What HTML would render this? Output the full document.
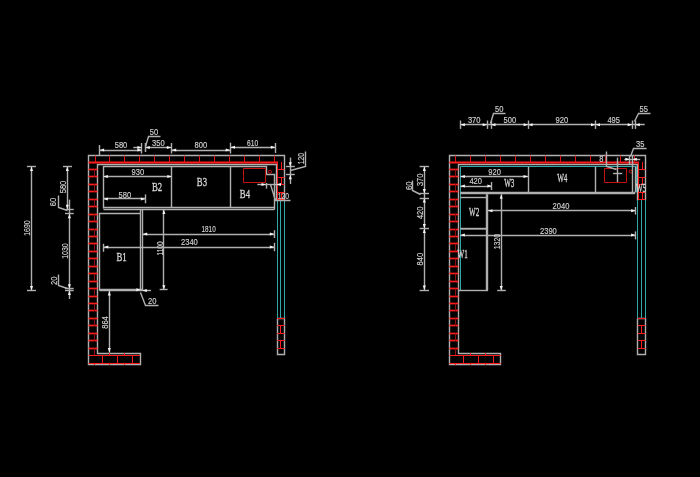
<!DOCTYPE html>
<html><head><meta charset="utf-8"><style>
html,body{margin:0;padding:0;background:#000;width:700px;height:477px;overflow:hidden}
svg{display:block;will-change:transform}
</style></head><body>
<svg width="700" height="477" viewBox="0 0 700 477">
<rect width="700" height="477" fill="#000"/>
<g>
<polyline points="284.50,200.50 284.50,155.50 88.50,155.50 88.50,364.50 140.50,364.50 140.50,353.50 97.50,353.50 97.50,164.50 276.50,164.50 276.50,200.50" fill="none" stroke="#b0b0b0" stroke-width="1.4"/>
<line x1="88.50" y1="162.50" x2="278.00" y2="162.50" stroke="#ff1c1c" stroke-width="1.8"/>
<line x1="95.50" y1="155.50" x2="95.50" y2="162.00" stroke="#e01414" stroke-width="1"/>
<line x1="109.50" y1="155.50" x2="109.50" y2="162.00" stroke="#e01414" stroke-width="1"/>
<line x1="124.50" y1="155.50" x2="124.50" y2="162.00" stroke="#e01414" stroke-width="1"/>
<line x1="139.50" y1="155.50" x2="139.50" y2="162.00" stroke="#e01414" stroke-width="1"/>
<line x1="154.50" y1="155.50" x2="154.50" y2="162.00" stroke="#e01414" stroke-width="1"/>
<line x1="169.50" y1="155.50" x2="169.50" y2="162.00" stroke="#e01414" stroke-width="1"/>
<line x1="184.50" y1="155.50" x2="184.50" y2="162.00" stroke="#e01414" stroke-width="1"/>
<line x1="199.50" y1="155.50" x2="199.50" y2="162.00" stroke="#e01414" stroke-width="1"/>
<line x1="214.50" y1="155.50" x2="214.50" y2="162.00" stroke="#e01414" stroke-width="1"/>
<line x1="229.50" y1="155.50" x2="229.50" y2="162.00" stroke="#e01414" stroke-width="1"/>
<line x1="244.50" y1="155.50" x2="244.50" y2="162.00" stroke="#e01414" stroke-width="1"/>
<line x1="259.50" y1="155.50" x2="259.50" y2="162.00" stroke="#e01414" stroke-width="1"/>
<line x1="274.50" y1="155.50" x2="274.50" y2="162.00" stroke="#e01414" stroke-width="1"/>
<line x1="102.50" y1="162.00" x2="102.50" y2="163.50" stroke="#ff1c1c" stroke-width="1"/>
<line x1="117.50" y1="162.00" x2="117.50" y2="163.50" stroke="#ff1c1c" stroke-width="1"/>
<line x1="132.50" y1="162.00" x2="132.50" y2="163.50" stroke="#ff1c1c" stroke-width="1"/>
<line x1="147.50" y1="162.00" x2="147.50" y2="163.50" stroke="#ff1c1c" stroke-width="1"/>
<line x1="162.50" y1="162.00" x2="162.50" y2="163.50" stroke="#ff1c1c" stroke-width="1"/>
<line x1="177.50" y1="162.00" x2="177.50" y2="163.50" stroke="#ff1c1c" stroke-width="1"/>
<line x1="191.50" y1="162.00" x2="191.50" y2="163.50" stroke="#ff1c1c" stroke-width="1"/>
<line x1="206.50" y1="162.00" x2="206.50" y2="163.50" stroke="#ff1c1c" stroke-width="1"/>
<line x1="221.50" y1="162.00" x2="221.50" y2="163.50" stroke="#ff1c1c" stroke-width="1"/>
<line x1="236.50" y1="162.00" x2="236.50" y2="163.50" stroke="#ff1c1c" stroke-width="1"/>
<line x1="251.50" y1="162.00" x2="251.50" y2="163.50" stroke="#ff1c1c" stroke-width="1"/>
<line x1="266.50" y1="162.00" x2="266.50" y2="163.50" stroke="#ff1c1c" stroke-width="1"/>
<line x1="88.50" y1="169.50" x2="97.50" y2="169.50" stroke="#ff1c1c" stroke-width="1.7"/>
<line x1="88.50" y1="176.50" x2="97.50" y2="176.50" stroke="#ff1c1c" stroke-width="1.7"/>
<line x1="88.50" y1="184.50" x2="97.50" y2="184.50" stroke="#ff1c1c" stroke-width="1.7"/>
<line x1="88.50" y1="191.50" x2="97.50" y2="191.50" stroke="#ff1c1c" stroke-width="1.7"/>
<line x1="88.50" y1="199.50" x2="97.50" y2="199.50" stroke="#ff1c1c" stroke-width="1.7"/>
<line x1="88.50" y1="206.50" x2="97.50" y2="206.50" stroke="#ff1c1c" stroke-width="1.7"/>
<line x1="88.50" y1="214.50" x2="97.50" y2="214.50" stroke="#ff1c1c" stroke-width="1.7"/>
<line x1="88.50" y1="221.50" x2="97.50" y2="221.50" stroke="#ff1c1c" stroke-width="1.7"/>
<line x1="88.50" y1="229.50" x2="97.50" y2="229.50" stroke="#ff1c1c" stroke-width="1.7"/>
<line x1="88.50" y1="236.50" x2="97.50" y2="236.50" stroke="#ff1c1c" stroke-width="1.7"/>
<line x1="88.50" y1="243.50" x2="97.50" y2="243.50" stroke="#ff1c1c" stroke-width="1.7"/>
<line x1="88.50" y1="251.50" x2="97.50" y2="251.50" stroke="#ff1c1c" stroke-width="1.7"/>
<line x1="88.50" y1="258.50" x2="97.50" y2="258.50" stroke="#ff1c1c" stroke-width="1.7"/>
<line x1="88.50" y1="266.50" x2="97.50" y2="266.50" stroke="#ff1c1c" stroke-width="1.7"/>
<line x1="88.50" y1="273.50" x2="97.50" y2="273.50" stroke="#ff1c1c" stroke-width="1.7"/>
<line x1="88.50" y1="281.50" x2="97.50" y2="281.50" stroke="#ff1c1c" stroke-width="1.7"/>
<line x1="88.50" y1="288.50" x2="97.50" y2="288.50" stroke="#ff1c1c" stroke-width="1.7"/>
<line x1="88.50" y1="296.50" x2="97.50" y2="296.50" stroke="#ff1c1c" stroke-width="1.7"/>
<line x1="88.50" y1="303.50" x2="97.50" y2="303.50" stroke="#ff1c1c" stroke-width="1.7"/>
<line x1="88.50" y1="310.50" x2="97.50" y2="310.50" stroke="#ff1c1c" stroke-width="1.7"/>
<line x1="88.50" y1="318.50" x2="97.50" y2="318.50" stroke="#ff1c1c" stroke-width="1.7"/>
<line x1="88.50" y1="325.50" x2="97.50" y2="325.50" stroke="#ff1c1c" stroke-width="1.7"/>
<line x1="88.50" y1="333.50" x2="97.50" y2="333.50" stroke="#ff1c1c" stroke-width="1.7"/>
<line x1="88.50" y1="340.50" x2="97.50" y2="340.50" stroke="#ff1c1c" stroke-width="1.7"/>
<line x1="88.50" y1="348.50" x2="97.50" y2="348.50" stroke="#ff1c1c" stroke-width="1.7"/>
<line x1="94.50" y1="169.45" x2="94.50" y2="176.90" stroke="#901010" stroke-width="1"/>
<line x1="94.50" y1="184.35" x2="94.50" y2="191.80" stroke="#901010" stroke-width="1"/>
<line x1="94.50" y1="199.25" x2="94.50" y2="206.70" stroke="#901010" stroke-width="1"/>
<line x1="94.50" y1="214.15" x2="94.50" y2="221.60" stroke="#901010" stroke-width="1"/>
<line x1="94.50" y1="229.05" x2="94.50" y2="236.50" stroke="#901010" stroke-width="1"/>
<line x1="94.50" y1="243.95" x2="94.50" y2="251.40" stroke="#901010" stroke-width="1"/>
<line x1="94.50" y1="258.85" x2="94.50" y2="266.30" stroke="#901010" stroke-width="1"/>
<line x1="94.50" y1="273.75" x2="94.50" y2="281.20" stroke="#901010" stroke-width="1"/>
<line x1="94.50" y1="288.65" x2="94.50" y2="296.10" stroke="#901010" stroke-width="1"/>
<line x1="94.50" y1="303.55" x2="94.50" y2="311.00" stroke="#901010" stroke-width="1"/>
<line x1="94.50" y1="318.45" x2="94.50" y2="325.90" stroke="#901010" stroke-width="1"/>
<line x1="94.50" y1="333.35" x2="94.50" y2="340.80" stroke="#901010" stroke-width="1"/>
<line x1="94.50" y1="348.25" x2="94.50" y2="355.50" stroke="#901010" stroke-width="1"/>
<line x1="277.50" y1="162.00" x2="277.50" y2="200.00" stroke="#ff1c1c" stroke-width="1"/>
<line x1="278.00" y1="169.50" x2="284.50" y2="169.50" stroke="#ff1c1c" stroke-width="1"/>
<line x1="278.00" y1="177.50" x2="284.50" y2="177.50" stroke="#ff1c1c" stroke-width="1"/>
<line x1="278.00" y1="184.50" x2="284.50" y2="184.50" stroke="#ff1c1c" stroke-width="1"/>
<line x1="278.00" y1="192.50" x2="284.50" y2="192.50" stroke="#ff1c1c" stroke-width="1"/>
<line x1="278.00" y1="199.50" x2="284.50" y2="199.50" stroke="#ff1c1c" stroke-width="1"/>
<line x1="281.50" y1="162.00" x2="281.50" y2="169.60" stroke="#ff1c1c" stroke-width="1"/>
<line x1="281.50" y1="177.10" x2="281.50" y2="184.60" stroke="#ff1c1c" stroke-width="1"/>
<line x1="281.50" y1="192.10" x2="281.50" y2="199.60" stroke="#ff1c1c" stroke-width="1"/>
<line x1="88.50" y1="355.50" x2="140.00" y2="355.50" stroke="#ff1c1c" stroke-width="1"/>
<line x1="88.50" y1="363.50" x2="140.00" y2="363.50" stroke="#ff1c1c" stroke-width="1"/>
<line x1="102.50" y1="355.50" x2="102.50" y2="363.00" stroke="#ff1c1c" stroke-width="1"/>
<line x1="117.50" y1="355.50" x2="117.50" y2="363.00" stroke="#ff1c1c" stroke-width="1"/>
<line x1="132.50" y1="355.50" x2="132.50" y2="363.00" stroke="#ff1c1c" stroke-width="1"/>
<line x1="109.50" y1="353.00" x2="109.50" y2="355.00" stroke="#ff1c1c" stroke-width="1"/>
<line x1="124.50" y1="353.00" x2="124.50" y2="355.00" stroke="#ff1c1c" stroke-width="1"/>
<line x1="94.50" y1="363.00" x2="94.50" y2="365.00" stroke="#ff1c1c" stroke-width="1"/>
<line x1="109.50" y1="363.00" x2="109.50" y2="365.00" stroke="#ff1c1c" stroke-width="1"/>
<line x1="124.50" y1="363.00" x2="124.50" y2="365.00" stroke="#ff1c1c" stroke-width="1"/>
<line x1="277.50" y1="200.00" x2="277.50" y2="318.00" stroke="#30a8a8" stroke-width="1"/>
<line x1="280.50" y1="200.00" x2="280.50" y2="318.00" stroke="#30a8a8" stroke-width="1"/>
<line x1="284.50" y1="200.00" x2="284.50" y2="318.00" stroke="#30a8a8" stroke-width="1"/>
<polyline points="277.50,318.50 284.50,318.50 284.50,354.50 277.50,354.50 277.50,318.50" fill="none" stroke="#b0b0b0" stroke-width="1.4"/>
<line x1="277.00" y1="318.50" x2="284.80" y2="318.50" stroke="#ff1c1c" stroke-width="1"/>
<line x1="277.00" y1="325.50" x2="284.80" y2="325.50" stroke="#ff1c1c" stroke-width="1"/>
<line x1="277.00" y1="333.50" x2="284.80" y2="333.50" stroke="#ff1c1c" stroke-width="1"/>
<line x1="277.00" y1="340.50" x2="284.80" y2="340.50" stroke="#ff1c1c" stroke-width="1"/>
<line x1="277.00" y1="348.50" x2="284.80" y2="348.50" stroke="#ff1c1c" stroke-width="1"/>
<line x1="280.50" y1="325.80" x2="280.50" y2="333.30" stroke="#ff1c1c" stroke-width="1"/>
<line x1="280.50" y1="340.90" x2="280.50" y2="348.00" stroke="#ff1c1c" stroke-width="1"/>
<polyline points="645.50,200.50 645.50,155.50 449.50,155.50 449.50,364.50 500.50,364.50 500.50,353.50 458.50,353.50 458.50,164.50 637.50,164.50 637.50,200.50" fill="none" stroke="#b0b0b0" stroke-width="1.4"/>
<line x1="449.30" y1="162.50" x2="638.80" y2="162.50" stroke="#ff1c1c" stroke-width="1.8"/>
<line x1="455.50" y1="155.50" x2="455.50" y2="162.00" stroke="#e01414" stroke-width="1"/>
<line x1="470.50" y1="155.50" x2="470.50" y2="162.00" stroke="#e01414" stroke-width="1"/>
<line x1="485.50" y1="155.50" x2="485.50" y2="162.00" stroke="#e01414" stroke-width="1"/>
<line x1="500.50" y1="155.50" x2="500.50" y2="162.00" stroke="#e01414" stroke-width="1"/>
<line x1="515.50" y1="155.50" x2="515.50" y2="162.00" stroke="#e01414" stroke-width="1"/>
<line x1="530.50" y1="155.50" x2="530.50" y2="162.00" stroke="#e01414" stroke-width="1"/>
<line x1="545.50" y1="155.50" x2="545.50" y2="162.00" stroke="#e01414" stroke-width="1"/>
<line x1="560.50" y1="155.50" x2="560.50" y2="162.00" stroke="#e01414" stroke-width="1"/>
<line x1="575.50" y1="155.50" x2="575.50" y2="162.00" stroke="#e01414" stroke-width="1"/>
<line x1="590.50" y1="155.50" x2="590.50" y2="162.00" stroke="#e01414" stroke-width="1"/>
<line x1="605.50" y1="155.50" x2="605.50" y2="162.00" stroke="#e01414" stroke-width="1"/>
<line x1="620.50" y1="155.50" x2="620.50" y2="162.00" stroke="#e01414" stroke-width="1"/>
<line x1="634.50" y1="155.50" x2="634.50" y2="162.00" stroke="#e01414" stroke-width="1"/>
<line x1="463.50" y1="162.00" x2="463.50" y2="163.50" stroke="#ff1c1c" stroke-width="1"/>
<line x1="478.50" y1="162.00" x2="478.50" y2="163.50" stroke="#ff1c1c" stroke-width="1"/>
<line x1="493.50" y1="162.00" x2="493.50" y2="163.50" stroke="#ff1c1c" stroke-width="1"/>
<line x1="507.50" y1="162.00" x2="507.50" y2="163.50" stroke="#ff1c1c" stroke-width="1"/>
<line x1="522.50" y1="162.00" x2="522.50" y2="163.50" stroke="#ff1c1c" stroke-width="1"/>
<line x1="537.50" y1="162.00" x2="537.50" y2="163.50" stroke="#ff1c1c" stroke-width="1"/>
<line x1="552.50" y1="162.00" x2="552.50" y2="163.50" stroke="#ff1c1c" stroke-width="1"/>
<line x1="567.50" y1="162.00" x2="567.50" y2="163.50" stroke="#ff1c1c" stroke-width="1"/>
<line x1="582.50" y1="162.00" x2="582.50" y2="163.50" stroke="#ff1c1c" stroke-width="1"/>
<line x1="597.50" y1="162.00" x2="597.50" y2="163.50" stroke="#ff1c1c" stroke-width="1"/>
<line x1="612.50" y1="162.00" x2="612.50" y2="163.50" stroke="#ff1c1c" stroke-width="1"/>
<line x1="627.50" y1="162.00" x2="627.50" y2="163.50" stroke="#ff1c1c" stroke-width="1"/>
<line x1="449.30" y1="169.50" x2="458.30" y2="169.50" stroke="#ff1c1c" stroke-width="1.7"/>
<line x1="449.30" y1="176.50" x2="458.30" y2="176.50" stroke="#ff1c1c" stroke-width="1.7"/>
<line x1="449.30" y1="184.50" x2="458.30" y2="184.50" stroke="#ff1c1c" stroke-width="1.7"/>
<line x1="449.30" y1="191.50" x2="458.30" y2="191.50" stroke="#ff1c1c" stroke-width="1.7"/>
<line x1="449.30" y1="199.50" x2="458.30" y2="199.50" stroke="#ff1c1c" stroke-width="1.7"/>
<line x1="449.30" y1="206.50" x2="458.30" y2="206.50" stroke="#ff1c1c" stroke-width="1.7"/>
<line x1="449.30" y1="214.50" x2="458.30" y2="214.50" stroke="#ff1c1c" stroke-width="1.7"/>
<line x1="449.30" y1="221.50" x2="458.30" y2="221.50" stroke="#ff1c1c" stroke-width="1.7"/>
<line x1="449.30" y1="229.50" x2="458.30" y2="229.50" stroke="#ff1c1c" stroke-width="1.7"/>
<line x1="449.30" y1="236.50" x2="458.30" y2="236.50" stroke="#ff1c1c" stroke-width="1.7"/>
<line x1="449.30" y1="243.50" x2="458.30" y2="243.50" stroke="#ff1c1c" stroke-width="1.7"/>
<line x1="449.30" y1="251.50" x2="458.30" y2="251.50" stroke="#ff1c1c" stroke-width="1.7"/>
<line x1="449.30" y1="258.50" x2="458.30" y2="258.50" stroke="#ff1c1c" stroke-width="1.7"/>
<line x1="449.30" y1="266.50" x2="458.30" y2="266.50" stroke="#ff1c1c" stroke-width="1.7"/>
<line x1="449.30" y1="273.50" x2="458.30" y2="273.50" stroke="#ff1c1c" stroke-width="1.7"/>
<line x1="449.30" y1="281.50" x2="458.30" y2="281.50" stroke="#ff1c1c" stroke-width="1.7"/>
<line x1="449.30" y1="288.50" x2="458.30" y2="288.50" stroke="#ff1c1c" stroke-width="1.7"/>
<line x1="449.30" y1="296.50" x2="458.30" y2="296.50" stroke="#ff1c1c" stroke-width="1.7"/>
<line x1="449.30" y1="303.50" x2="458.30" y2="303.50" stroke="#ff1c1c" stroke-width="1.7"/>
<line x1="449.30" y1="310.50" x2="458.30" y2="310.50" stroke="#ff1c1c" stroke-width="1.7"/>
<line x1="449.30" y1="318.50" x2="458.30" y2="318.50" stroke="#ff1c1c" stroke-width="1.7"/>
<line x1="449.30" y1="325.50" x2="458.30" y2="325.50" stroke="#ff1c1c" stroke-width="1.7"/>
<line x1="449.30" y1="333.50" x2="458.30" y2="333.50" stroke="#ff1c1c" stroke-width="1.7"/>
<line x1="449.30" y1="340.50" x2="458.30" y2="340.50" stroke="#ff1c1c" stroke-width="1.7"/>
<line x1="449.30" y1="348.50" x2="458.30" y2="348.50" stroke="#ff1c1c" stroke-width="1.7"/>
<line x1="455.50" y1="169.45" x2="455.50" y2="176.90" stroke="#901010" stroke-width="1"/>
<line x1="455.50" y1="184.35" x2="455.50" y2="191.80" stroke="#901010" stroke-width="1"/>
<line x1="455.50" y1="199.25" x2="455.50" y2="206.70" stroke="#901010" stroke-width="1"/>
<line x1="455.50" y1="214.15" x2="455.50" y2="221.60" stroke="#901010" stroke-width="1"/>
<line x1="455.50" y1="229.05" x2="455.50" y2="236.50" stroke="#901010" stroke-width="1"/>
<line x1="455.50" y1="243.95" x2="455.50" y2="251.40" stroke="#901010" stroke-width="1"/>
<line x1="455.50" y1="258.85" x2="455.50" y2="266.30" stroke="#901010" stroke-width="1"/>
<line x1="455.50" y1="273.75" x2="455.50" y2="281.20" stroke="#901010" stroke-width="1"/>
<line x1="455.50" y1="288.65" x2="455.50" y2="296.10" stroke="#901010" stroke-width="1"/>
<line x1="455.50" y1="303.55" x2="455.50" y2="311.00" stroke="#901010" stroke-width="1"/>
<line x1="455.50" y1="318.45" x2="455.50" y2="325.90" stroke="#901010" stroke-width="1"/>
<line x1="455.50" y1="333.35" x2="455.50" y2="340.80" stroke="#901010" stroke-width="1"/>
<line x1="455.50" y1="348.25" x2="455.50" y2="355.50" stroke="#901010" stroke-width="1"/>
<line x1="638.50" y1="162.00" x2="638.50" y2="200.00" stroke="#ff1c1c" stroke-width="1"/>
<line x1="638.80" y1="169.50" x2="645.30" y2="169.50" stroke="#ff1c1c" stroke-width="1"/>
<line x1="638.80" y1="177.50" x2="645.30" y2="177.50" stroke="#ff1c1c" stroke-width="1"/>
<line x1="638.80" y1="184.50" x2="645.30" y2="184.50" stroke="#ff1c1c" stroke-width="1"/>
<line x1="638.80" y1="192.50" x2="645.30" y2="192.50" stroke="#ff1c1c" stroke-width="1"/>
<line x1="638.80" y1="199.50" x2="645.30" y2="199.50" stroke="#ff1c1c" stroke-width="1"/>
<line x1="642.50" y1="162.00" x2="642.50" y2="169.60" stroke="#ff1c1c" stroke-width="1"/>
<line x1="642.50" y1="177.10" x2="642.50" y2="184.60" stroke="#ff1c1c" stroke-width="1"/>
<line x1="642.50" y1="192.10" x2="642.50" y2="199.60" stroke="#ff1c1c" stroke-width="1"/>
<line x1="449.30" y1="355.50" x2="500.80" y2="355.50" stroke="#ff1c1c" stroke-width="1"/>
<line x1="449.30" y1="363.50" x2="500.80" y2="363.50" stroke="#ff1c1c" stroke-width="1"/>
<line x1="463.50" y1="355.50" x2="463.50" y2="363.00" stroke="#ff1c1c" stroke-width="1"/>
<line x1="478.50" y1="355.50" x2="478.50" y2="363.00" stroke="#ff1c1c" stroke-width="1"/>
<line x1="493.50" y1="355.50" x2="493.50" y2="363.00" stroke="#ff1c1c" stroke-width="1"/>
<line x1="470.50" y1="353.00" x2="470.50" y2="355.00" stroke="#ff1c1c" stroke-width="1"/>
<line x1="485.50" y1="353.00" x2="485.50" y2="355.00" stroke="#ff1c1c" stroke-width="1"/>
<line x1="455.50" y1="363.00" x2="455.50" y2="365.00" stroke="#ff1c1c" stroke-width="1"/>
<line x1="470.50" y1="363.00" x2="470.50" y2="365.00" stroke="#ff1c1c" stroke-width="1"/>
<line x1="485.50" y1="363.00" x2="485.50" y2="365.00" stroke="#ff1c1c" stroke-width="1"/>
<line x1="637.50" y1="200.00" x2="637.50" y2="318.00" stroke="#30a8a8" stroke-width="1"/>
<line x1="641.50" y1="200.00" x2="641.50" y2="318.00" stroke="#30a8a8" stroke-width="1"/>
<line x1="645.50" y1="200.00" x2="645.50" y2="318.00" stroke="#30a8a8" stroke-width="1"/>
<polyline points="637.50,318.50 645.50,318.50 645.50,354.50 637.50,354.50 637.50,318.50" fill="none" stroke="#b0b0b0" stroke-width="1.4"/>
<line x1="637.80" y1="318.50" x2="645.60" y2="318.50" stroke="#ff1c1c" stroke-width="1"/>
<line x1="637.80" y1="325.50" x2="645.60" y2="325.50" stroke="#ff1c1c" stroke-width="1"/>
<line x1="637.80" y1="333.50" x2="645.60" y2="333.50" stroke="#ff1c1c" stroke-width="1"/>
<line x1="637.80" y1="340.50" x2="645.60" y2="340.50" stroke="#ff1c1c" stroke-width="1"/>
<line x1="637.80" y1="348.50" x2="645.60" y2="348.50" stroke="#ff1c1c" stroke-width="1"/>
<line x1="641.50" y1="325.80" x2="641.50" y2="333.30" stroke="#ff1c1c" stroke-width="1"/>
<line x1="641.50" y1="340.90" x2="641.50" y2="348.00" stroke="#ff1c1c" stroke-width="1"/>
<polyline points="103.50,208.50 103.50,166.50 266.50,166.50 266.50,174.50 274.50,174.50 274.50,209.50" fill="none" stroke="#b0b0b0" stroke-width="1.4"/>
<line x1="171.50" y1="166.40" x2="171.50" y2="208.00" stroke="#b0b0b0" stroke-width="1.4"/>
<line x1="230.50" y1="166.40" x2="230.50" y2="208.00" stroke="#b0b0b0" stroke-width="1.4"/>
<line x1="103.50" y1="207.50" x2="274.50" y2="207.50" stroke="#b0b0b0" stroke-width="1.4"/>
<line x1="103.50" y1="209.50" x2="274.50" y2="209.50" stroke="#b0b0b0" stroke-width="1.4"/>
<polyline points="140.50,213.50 99.50,213.50 99.50,290.50" fill="none" stroke="#b0b0b0" stroke-width="1.4"/>
<line x1="140.50" y1="209.50" x2="140.50" y2="291.00" stroke="#b0b0b0" stroke-width="1.4"/>
<line x1="142.50" y1="209.50" x2="142.50" y2="291.00" stroke="#b0b0b0" stroke-width="1.4"/>
<line x1="99.50" y1="289.50" x2="142.30" y2="289.50" stroke="#b0b0b0" stroke-width="1.4"/>
<line x1="99.50" y1="290.50" x2="142.30" y2="290.50" stroke="#b0b0b0" stroke-width="1.4"/>
<polyline points="243.50,168.50 265.50,168.50 265.50,182.50 243.50,182.50 243.50,168.50" fill="none" stroke="#c41212" stroke-width="1"/>
<circle cx="270.00" cy="171.70" r="1.5" fill="none" stroke="#c41212" stroke-width="1"/>
<text transform="translate(157.00,187.20)" x="0" y="0.0" font-family="Liberation Serif" font-size="12.0" fill="#d2d2d2" stroke="#d2d2d2" stroke-width="0.35" text-anchor="middle" dominant-baseline="central" textLength="10.20" lengthAdjust="spacingAndGlyphs">B2</text>
<text transform="translate(201.90,181.60)" x="0" y="0.0" font-family="Liberation Serif" font-size="12.0" fill="#d2d2d2" stroke="#d2d2d2" stroke-width="0.35" text-anchor="middle" dominant-baseline="central" textLength="10.20" lengthAdjust="spacingAndGlyphs">B3</text>
<text transform="translate(244.90,194.00)" x="0" y="0.0" font-family="Liberation Serif" font-size="12.0" fill="#d2d2d2" stroke="#d2d2d2" stroke-width="0.35" text-anchor="middle" dominant-baseline="central" textLength="10.20" lengthAdjust="spacingAndGlyphs">B4</text>
<text transform="translate(121.50,256.50)" x="0" y="0.0" font-family="Liberation Serif" font-size="12.0" fill="#d2d2d2" stroke="#d2d2d2" stroke-width="0.35" text-anchor="middle" dominant-baseline="central" textLength="10.20" lengthAdjust="spacingAndGlyphs">B1</text>
<line x1="99.60" y1="150.50" x2="141.90" y2="150.50" stroke="#b0b0b0" stroke-width="1.4"/>
<polygon points="99.60,150.00 104.10,148.50 104.10,151.50" fill="#f4f4f4"/>
<polygon points="141.90,150.00 137.40,148.50 137.40,151.50" fill="#f4f4f4"/>
<line x1="99.50" y1="145.00" x2="99.50" y2="155.00" stroke="#b0b0b0" stroke-width="1.4"/>
<line x1="141.50" y1="143.00" x2="141.50" y2="153.50" stroke="#b0b0b0" stroke-width="1.4"/>
<text transform="translate(121.00,144.90)" x="0" y="0.5" font-family="Liberation Sans" font-size="8.9" fill="#d2d2d2" stroke="#d2d2d2" stroke-width="0.15" text-anchor="middle" dominant-baseline="central" textLength="12.60" lengthAdjust="spacingAndGlyphs">580</text>
<line x1="133.30" y1="147.50" x2="141.90" y2="147.50" stroke="#b0b0b0" stroke-width="1.4"/>
<polygon points="141.90,147.40 137.40,145.90 137.40,148.90" fill="#f4f4f4"/>
<line x1="145.30" y1="147.50" x2="171.30" y2="147.50" stroke="#b0b0b0" stroke-width="1.4"/>
<polygon points="145.30,147.40 149.80,145.90 149.80,148.90" fill="#f4f4f4"/>
<polygon points="171.30,147.40 166.80,145.90 166.80,148.90" fill="#f4f4f4"/>
<line x1="145.50" y1="143.00" x2="145.50" y2="152.00" stroke="#b0b0b0" stroke-width="1.5"/>
<line x1="171.50" y1="143.00" x2="171.50" y2="153.50" stroke="#b0b0b0" stroke-width="1.4"/>
<text transform="translate(158.40,142.30)" x="0" y="0.5" font-family="Liberation Sans" font-size="8.9" fill="#d2d2d2" stroke="#d2d2d2" stroke-width="0.15" text-anchor="middle" dominant-baseline="central" textLength="12.60" lengthAdjust="spacingAndGlyphs">350</text>
<text transform="translate(154.00,131.60)" x="0" y="0.5" font-family="Liberation Sans" font-size="8.9" fill="#d2d2d2" stroke="#d2d2d2" stroke-width="0.15" text-anchor="middle" dominant-baseline="central" textLength="8.40" lengthAdjust="spacingAndGlyphs">50</text>
<polyline points="160.50,136.50 148.50,136.50 145.50,146.50" fill="none" stroke="#b0b0b0" stroke-width="1.4"/>
<line x1="171.70" y1="150.50" x2="230.20" y2="150.50" stroke="#b0b0b0" stroke-width="1.4"/>
<polygon points="171.70,150.00 176.20,148.50 176.20,151.50" fill="#f4f4f4"/>
<polygon points="230.20,150.00 225.70,148.50 225.70,151.50" fill="#f4f4f4"/>
<text transform="translate(200.90,144.70)" x="0" y="0.5" font-family="Liberation Sans" font-size="8.9" fill="#d2d2d2" stroke="#d2d2d2" stroke-width="0.15" text-anchor="middle" dominant-baseline="central" textLength="12.60" lengthAdjust="spacingAndGlyphs">800</text>
<line x1="230.50" y1="142.70" x2="230.50" y2="153.50" stroke="#b0b0b0" stroke-width="1.4"/>
<line x1="230.50" y1="147.50" x2="275.30" y2="147.50" stroke="#b0b0b0" stroke-width="1.4"/>
<polygon points="230.50,147.30 235.00,145.80 235.00,148.80" fill="#f4f4f4"/>
<polygon points="275.30,147.30 270.80,145.80 270.80,148.80" fill="#f4f4f4"/>
<line x1="275.50" y1="143.00" x2="275.50" y2="153.00" stroke="#b0b0b0" stroke-width="1.4"/>
<text transform="translate(252.60,142.10)" x="0" y="0.5" font-family="Liberation Sans" font-size="8.9" fill="#d2d2d2" stroke="#d2d2d2" stroke-width="0.15" text-anchor="middle" dominant-baseline="central" textLength="11.30" lengthAdjust="spacingAndGlyphs">610</text>
<line x1="290.50" y1="157.60" x2="290.50" y2="184.00" stroke="#b0b0b0" stroke-width="1.4"/>
<line x1="286.10" y1="166.50" x2="294.80" y2="166.50" stroke="#b0b0b0" stroke-width="1.4"/>
<line x1="286.10" y1="174.50" x2="294.80" y2="174.50" stroke="#b0b0b0" stroke-width="1.4"/>
<polygon points="290.30,166.70 288.80,162.20 291.80,162.20" fill="#f4f4f4"/>
<polygon points="290.30,174.80 288.80,179.30 291.80,179.30" fill="#f4f4f4"/>
<text transform="translate(300.60,158.70) rotate(-90)" x="0" y="0.5" font-family="Liberation Sans" font-size="8.9" fill="#d2d2d2" stroke="#d2d2d2" stroke-width="0.15" text-anchor="middle" dominant-baseline="central" textLength="11.30" lengthAdjust="spacingAndGlyphs">120</text>
<polyline points="305.50,151.50 305.50,166.50 290.50,170.50" fill="none" stroke="#b0b0b0" stroke-width="1.4"/>
<line x1="257.30" y1="184.50" x2="279.80" y2="184.50" stroke="#b0b0b0" stroke-width="1.4"/>
<polygon points="266.00,184.60 261.50,183.10 261.50,186.10" fill="#f4f4f4"/>
<polygon points="276.50,184.60 281.00,183.10 281.00,186.10" fill="#f4f4f4"/>
<line x1="266.50" y1="183.00" x2="266.50" y2="188.60" stroke="#b0b0b0" stroke-width="1.4"/>
<polyline points="270.50,184.50 275.50,200.50 290.50,200.50" fill="none" stroke="#b0b0b0" stroke-width="1.4"/>
<text transform="translate(283.30,195.20)" x="0" y="0.5" font-family="Liberation Sans" font-size="8.9" fill="#d2d2d2" stroke="#d2d2d2" stroke-width="0.15" text-anchor="middle" dominant-baseline="central" textLength="11.30" lengthAdjust="spacingAndGlyphs">120</text>
<line x1="31.50" y1="166.40" x2="31.50" y2="290.50" stroke="#b0b0b0" stroke-width="1.4"/>
<line x1="27.00" y1="166.50" x2="36.00" y2="166.50" stroke="#b0b0b0" stroke-width="1.4"/>
<line x1="27.00" y1="290.50" x2="36.00" y2="290.50" stroke="#b0b0b0" stroke-width="1.4"/>
<polygon points="31.50,166.40 30.00,170.90 33.00,170.90" fill="#f4f4f4"/>
<polygon points="31.50,290.50 30.00,286.00 33.00,286.00" fill="#f4f4f4"/>
<text transform="translate(26.00,228.00) rotate(-90)" x="0" y="0.5" font-family="Liberation Sans" font-size="8.9" fill="#d2d2d2" stroke="#d2d2d2" stroke-width="0.15" text-anchor="middle" dominant-baseline="central" textLength="15.50" lengthAdjust="spacingAndGlyphs">1690</text>
<line x1="67.50" y1="166.40" x2="67.50" y2="209.50" stroke="#b0b0b0" stroke-width="1.4"/>
<line x1="63.00" y1="166.50" x2="72.00" y2="166.50" stroke="#b0b0b0" stroke-width="1.4"/>
<polygon points="67.30,166.40 65.80,170.90 68.80,170.90" fill="#f4f4f4"/>
<polygon points="67.30,209.30 65.80,204.80 68.80,204.80" fill="#f4f4f4"/>
<line x1="69.50" y1="199.60" x2="69.50" y2="299.00" stroke="#b0b0b0" stroke-width="1.4"/>
<line x1="66.00" y1="209.50" x2="73.70" y2="209.50" stroke="#b0b0b0" stroke-width="1.4"/>
<line x1="65.00" y1="213.50" x2="73.70" y2="213.50" stroke="#b0b0b0" stroke-width="1.4"/>
<polygon points="69.40,213.70 67.90,218.20 70.90,218.20" fill="#f4f4f4"/>
<polygon points="69.40,288.80 67.90,284.30 70.90,284.30" fill="#f4f4f4"/>
<line x1="65.00" y1="288.50" x2="73.70" y2="288.50" stroke="#b0b0b0" stroke-width="1.4"/>
<line x1="65.00" y1="290.50" x2="73.70" y2="290.50" stroke="#b0b0b0" stroke-width="1.4"/>
<polygon points="69.40,290.50 67.90,295.00 70.90,295.00" fill="#f4f4f4"/>
<text transform="translate(62.50,187.00) rotate(-90)" x="0" y="0.5" font-family="Liberation Sans" font-size="8.9" fill="#d2d2d2" stroke="#d2d2d2" stroke-width="0.15" text-anchor="middle" dominant-baseline="central" textLength="12.60" lengthAdjust="spacingAndGlyphs">580</text>
<text transform="translate(64.50,251.00) rotate(-90)" x="0" y="0.5" font-family="Liberation Sans" font-size="8.9" fill="#d2d2d2" stroke="#d2d2d2" stroke-width="0.15" text-anchor="middle" dominant-baseline="central" textLength="15.50" lengthAdjust="spacingAndGlyphs">1030</text>
<text transform="translate(52.70,202.00) rotate(-90)" x="0" y="0.5" font-family="Liberation Sans" font-size="8.9" fill="#d2d2d2" stroke="#d2d2d2" stroke-width="0.15" text-anchor="middle" dominant-baseline="central" textLength="8.40" lengthAdjust="spacingAndGlyphs">60</text>
<polyline points="58.50,195.50 58.50,207.50 67.50,210.50" fill="none" stroke="#b0b0b0" stroke-width="1.4"/>
<text transform="translate(53.30,280.80) rotate(-90)" x="0" y="0.5" font-family="Liberation Sans" font-size="8.9" fill="#d2d2d2" stroke="#d2d2d2" stroke-width="0.15" text-anchor="middle" dominant-baseline="central" textLength="8.40" lengthAdjust="spacingAndGlyphs">20</text>
<polyline points="58.50,274.50 58.50,285.50 67.50,288.50" fill="none" stroke="#b0b0b0" stroke-width="1.4"/>
<line x1="103.40" y1="176.50" x2="171.80" y2="176.50" stroke="#b0b0b0" stroke-width="1.4"/>
<polygon points="103.40,176.40 107.90,174.90 107.90,177.90" fill="#f4f4f4"/>
<polygon points="171.80,176.40 167.30,174.90 167.30,177.90" fill="#f4f4f4"/>
<text transform="translate(137.80,171.40)" x="0" y="0.5" font-family="Liberation Sans" font-size="8.9" fill="#d2d2d2" stroke="#d2d2d2" stroke-width="0.15" text-anchor="middle" dominant-baseline="central" textLength="12.60" lengthAdjust="spacingAndGlyphs">930</text>
<line x1="103.40" y1="198.50" x2="145.30" y2="198.50" stroke="#b0b0b0" stroke-width="1.4"/>
<polygon points="103.40,198.90 107.90,197.40 107.90,200.40" fill="#f4f4f4"/>
<polygon points="145.30,198.90 140.80,197.40 140.80,200.40" fill="#f4f4f4"/>
<line x1="145.50" y1="194.40" x2="145.50" y2="203.30" stroke="#b0b0b0" stroke-width="1.4"/>
<text transform="translate(124.90,194.00)" x="0" y="0.5" font-family="Liberation Sans" font-size="8.9" fill="#d2d2d2" stroke="#d2d2d2" stroke-width="0.15" text-anchor="middle" dominant-baseline="central" textLength="12.60" lengthAdjust="spacingAndGlyphs">580</text>
<line x1="163.50" y1="209.50" x2="163.50" y2="289.70" stroke="#b0b0b0" stroke-width="1.4"/>
<polygon points="163.90,209.50 162.40,214.00 165.40,214.00" fill="#f4f4f4"/>
<polygon points="163.90,289.70 162.40,285.20 165.40,285.20" fill="#f4f4f4"/>
<line x1="159.60" y1="289.50" x2="167.60" y2="289.50" stroke="#b0b0b0" stroke-width="1.4"/>
<text transform="translate(159.50,248.40) rotate(-90)" x="0" y="0.5" font-family="Liberation Sans" font-size="8.9" fill="#d2d2d2" stroke="#d2d2d2" stroke-width="0.15" text-anchor="middle" dominant-baseline="central" textLength="14.20" lengthAdjust="spacingAndGlyphs">1100</text>
<line x1="142.70" y1="234.50" x2="274.30" y2="234.50" stroke="#b0b0b0" stroke-width="1.4"/>
<polygon points="142.70,234.00 147.20,232.50 147.20,235.50" fill="#f4f4f4"/>
<polygon points="274.30,234.00 269.80,232.50 269.80,235.50" fill="#f4f4f4"/>
<line x1="274.50" y1="230.20" x2="274.50" y2="238.00" stroke="#b0b0b0" stroke-width="1.4"/>
<text transform="translate(208.60,228.80)" x="0" y="0.5" font-family="Liberation Sans" font-size="8.9" fill="#d2d2d2" stroke="#d2d2d2" stroke-width="0.15" text-anchor="middle" dominant-baseline="central" textLength="14.20" lengthAdjust="spacingAndGlyphs">1810</text>
<line x1="103.80" y1="247.50" x2="274.30" y2="247.50" stroke="#b0b0b0" stroke-width="1.4"/>
<polygon points="103.80,247.00 108.30,245.50 108.30,248.50" fill="#f4f4f4"/>
<polygon points="274.30,247.00 269.80,245.50 269.80,248.50" fill="#f4f4f4"/>
<line x1="103.50" y1="243.80" x2="103.50" y2="251.80" stroke="#b0b0b0" stroke-width="1.4"/>
<line x1="274.50" y1="242.80" x2="274.50" y2="251.20" stroke="#b0b0b0" stroke-width="1.4"/>
<text transform="translate(189.40,241.80)" x="0" y="0.5" font-family="Liberation Sans" font-size="8.9" fill="#d2d2d2" stroke="#d2d2d2" stroke-width="0.15" text-anchor="middle" dominant-baseline="central" textLength="16.80" lengthAdjust="spacingAndGlyphs">2340</text>
<line x1="109.50" y1="291.00" x2="109.50" y2="352.60" stroke="#b0b0b0" stroke-width="1.4"/>
<polygon points="109.30,291.00 107.80,295.50 110.80,295.50" fill="#f4f4f4"/>
<polygon points="109.30,352.60 107.80,348.10 110.80,348.10" fill="#f4f4f4"/>
<text transform="translate(104.20,322.50) rotate(-90)" x="0" y="0.5" font-family="Liberation Sans" font-size="8.9" fill="#d2d2d2" stroke="#d2d2d2" stroke-width="0.15" text-anchor="middle" dominant-baseline="central" textLength="12.60" lengthAdjust="spacingAndGlyphs">864</text>
<line x1="142.30" y1="290.50" x2="151.00" y2="290.50" stroke="#b0b0b0" stroke-width="1.4"/>
<polygon points="142.30,290.40 146.80,288.90 146.80,291.90" fill="#f4f4f4"/>
<polygon points="140.80,289.70 136.30,288.20 136.30,291.20" fill="#f4f4f4"/>
<polyline points="140.50,292.50 145.50,305.50 158.50,305.50" fill="none" stroke="#b0b0b0" stroke-width="1.4"/>
<text transform="translate(152.20,300.90)" x="0" y="0.5" font-family="Liberation Sans" font-size="8.9" fill="#d2d2d2" stroke="#d2d2d2" stroke-width="0.15" text-anchor="middle" dominant-baseline="central" textLength="8.40" lengthAdjust="spacingAndGlyphs">20</text>
<polyline points="460.50,290.50 460.50,166.50 636.50,166.50 636.50,192.50" fill="none" stroke="#30a8a8" stroke-width="1"/>
<line x1="528.50" y1="166.70" x2="528.50" y2="192.00" stroke="#b0b0b0" stroke-width="1.4"/>
<line x1="595.50" y1="166.70" x2="595.50" y2="192.00" stroke="#b0b0b0" stroke-width="1.4"/>
<line x1="635.50" y1="166.70" x2="635.50" y2="192.30" stroke="#b0b0b0" stroke-width="1.4"/>
<line x1="460.40" y1="192.50" x2="635.20" y2="192.50" stroke="#b0b0b0" stroke-width="1.4"/>
<line x1="460.40" y1="193.50" x2="635.20" y2="193.50" stroke="#b0b0b0" stroke-width="1.4"/>
<line x1="460.40" y1="197.50" x2="486.40" y2="197.50" stroke="#b0b0b0" stroke-width="1.4"/>
<line x1="486.50" y1="194.20" x2="486.50" y2="290.50" stroke="#b0b0b0" stroke-width="1.4"/>
<line x1="487.50" y1="194.20" x2="487.50" y2="290.50" stroke="#b0b0b0" stroke-width="1.4"/>
<line x1="460.40" y1="228.50" x2="486.40" y2="228.50" stroke="#b0b0b0" stroke-width="1.4"/>
<line x1="460.40" y1="229.50" x2="486.40" y2="229.50" stroke="#b0b0b0" stroke-width="0.6"/>
<line x1="458.30" y1="290.50" x2="488.00" y2="290.50" stroke="#b0b0b0" stroke-width="1.4"/>
<polyline points="604.50,168.50 626.50,168.50 626.50,182.50 604.50,182.50 604.50,168.50" fill="none" stroke="#c41212" stroke-width="1"/>
<circle cx="630.70" cy="171.50" r="1.5" fill="none" stroke="#c41212" stroke-width="1"/>
<line x1="617.50" y1="157.60" x2="617.50" y2="182.00" stroke="#b0b0b0" stroke-width="1.4"/>
<line x1="613.10" y1="173.50" x2="622.30" y2="173.50" stroke="#b0b0b0" stroke-width="1.4"/>
<text transform="translate(509.30,182.80)" x="0" y="0.0" font-family="Liberation Serif" font-size="12.0" fill="#d2d2d2" stroke="#d2d2d2" stroke-width="0.35" text-anchor="middle" dominant-baseline="central" textLength="10.20" lengthAdjust="spacingAndGlyphs">W3</text>
<text transform="translate(562.30,178.00)" x="0" y="0.0" font-family="Liberation Serif" font-size="12.0" fill="#d2d2d2" stroke="#d2d2d2" stroke-width="0.35" text-anchor="middle" dominant-baseline="central" textLength="10.20" lengthAdjust="spacingAndGlyphs">W4</text>
<text transform="translate(641.00,187.80)" x="0" y="0.0" font-family="Liberation Serif" font-size="12.0" fill="#d2d2d2" stroke="#d2d2d2" stroke-width="0.35" text-anchor="middle" dominant-baseline="central" textLength="10.20" lengthAdjust="spacingAndGlyphs">W5</text>
<text transform="translate(474.20,211.50)" x="0" y="0.0" font-family="Liberation Serif" font-size="12.0" fill="#d2d2d2" stroke="#d2d2d2" stroke-width="0.35" text-anchor="middle" dominant-baseline="central" textLength="10.20" lengthAdjust="spacingAndGlyphs">W2</text>
<text transform="translate(462.70,254.10)" x="0" y="0.0" font-family="Liberation Serif" font-size="12.0" fill="#d2d2d2" stroke="#d2d2d2" stroke-width="0.35" text-anchor="middle" dominant-baseline="central" textLength="10.20" lengthAdjust="spacingAndGlyphs">W1</text>
<line x1="460.40" y1="124.50" x2="644.70" y2="124.50" stroke="#b0b0b0" stroke-width="1.4"/>
<line x1="460.50" y1="120.50" x2="460.50" y2="128.90" stroke="#b0b0b0" stroke-width="1.4"/>
<line x1="487.50" y1="120.50" x2="487.50" y2="128.90" stroke="#b0b0b0" stroke-width="1.4"/>
<line x1="491.50" y1="120.50" x2="491.50" y2="128.90" stroke="#b0b0b0" stroke-width="1.4"/>
<line x1="528.50" y1="120.50" x2="528.50" y2="128.90" stroke="#b0b0b0" stroke-width="1.4"/>
<line x1="595.50" y1="120.50" x2="595.50" y2="128.90" stroke="#b0b0b0" stroke-width="1.4"/>
<line x1="632.50" y1="120.50" x2="632.50" y2="128.90" stroke="#b0b0b0" stroke-width="1.4"/>
<line x1="635.50" y1="120.50" x2="635.50" y2="128.90" stroke="#b0b0b0" stroke-width="1.4"/>
<polygon points="460.40,124.70 464.90,123.20 464.90,126.20" fill="#f4f4f4"/>
<polygon points="487.20,124.70 482.70,123.20 482.70,126.20" fill="#f4f4f4"/>
<polygon points="491.00,124.70 495.50,123.20 495.50,126.20" fill="#f4f4f4"/>
<polygon points="528.10,124.70 523.60,123.20 523.60,126.20" fill="#f4f4f4"/>
<polygon points="528.10,124.70 532.60,123.20 532.60,126.20" fill="#f4f4f4"/>
<polygon points="595.50,124.70 591.00,123.20 591.00,126.20" fill="#f4f4f4"/>
<polygon points="595.50,124.70 600.00,123.20 600.00,126.20" fill="#f4f4f4"/>
<polygon points="632.20,124.70 627.70,123.20 627.70,126.20" fill="#f4f4f4"/>
<polygon points="635.30,124.70 639.80,123.20 639.80,126.20" fill="#f4f4f4"/>
<text transform="translate(474.20,119.90)" x="0" y="0.5" font-family="Liberation Sans" font-size="8.9" fill="#d2d2d2" stroke="#d2d2d2" stroke-width="0.15" text-anchor="middle" dominant-baseline="central" textLength="12.60" lengthAdjust="spacingAndGlyphs">370</text>
<text transform="translate(509.90,119.90)" x="0" y="0.5" font-family="Liberation Sans" font-size="8.9" fill="#d2d2d2" stroke="#d2d2d2" stroke-width="0.15" text-anchor="middle" dominant-baseline="central" textLength="12.60" lengthAdjust="spacingAndGlyphs">500</text>
<text transform="translate(561.90,119.90)" x="0" y="0.5" font-family="Liberation Sans" font-size="8.9" fill="#d2d2d2" stroke="#d2d2d2" stroke-width="0.15" text-anchor="middle" dominant-baseline="central" textLength="12.60" lengthAdjust="spacingAndGlyphs">920</text>
<text transform="translate(613.70,119.90)" x="0" y="0.5" font-family="Liberation Sans" font-size="8.9" fill="#d2d2d2" stroke="#d2d2d2" stroke-width="0.15" text-anchor="middle" dominant-baseline="central" textLength="12.60" lengthAdjust="spacingAndGlyphs">495</text>
<text transform="translate(499.20,108.80)" x="0" y="0.5" font-family="Liberation Sans" font-size="8.9" fill="#d2d2d2" stroke="#d2d2d2" stroke-width="0.15" text-anchor="middle" dominant-baseline="central" textLength="8.40" lengthAdjust="spacingAndGlyphs">50</text>
<text transform="translate(643.70,108.80)" x="0" y="0.5" font-family="Liberation Sans" font-size="8.9" fill="#d2d2d2" stroke="#d2d2d2" stroke-width="0.15" text-anchor="middle" dominant-baseline="central" textLength="8.40" lengthAdjust="spacingAndGlyphs">55</text>
<polyline points="505.50,113.50 493.50,113.50 490.50,123.50" fill="none" stroke="#b0b0b0" stroke-width="1.4"/>
<polyline points="650.50,113.50 638.50,113.50 634.50,121.50" fill="none" stroke="#b0b0b0" stroke-width="1.4"/>
<text transform="translate(640.20,143.70)" x="0" y="0.5" font-family="Liberation Sans" font-size="8.9" fill="#d2d2d2" stroke="#d2d2d2" stroke-width="0.15" text-anchor="middle" dominant-baseline="central" textLength="8.40" lengthAdjust="spacingAndGlyphs">35</text>
<polyline points="646.50,148.50 633.50,148.50 630.50,156.50" fill="none" stroke="#b0b0b0" stroke-width="1.4"/>
<line x1="624.30" y1="159.50" x2="640.20" y2="159.50" stroke="#b0b0b0" stroke-width="1.4"/>
<line x1="629.50" y1="155.00" x2="629.50" y2="164.00" stroke="#b0b0b0" stroke-width="1.4"/>
<line x1="632.50" y1="155.00" x2="632.50" y2="192.50" stroke="#b0b0b0" stroke-width="1.4"/>
<polygon points="629.80,159.30 625.30,157.80 625.30,160.80" fill="#f4f4f4"/>
<polygon points="632.30,159.30 636.80,157.80 636.80,160.80" fill="#f4f4f4"/>
<text transform="translate(601.40,158.00)" x="0" y="0.5" font-family="Liberation Sans" font-size="8.9" fill="#d2d2d2" stroke="#d2d2d2" stroke-width="0.15" text-anchor="middle" dominant-baseline="central" textLength="4.20" lengthAdjust="spacingAndGlyphs">8</text>
<polyline points="606.50,151.50 606.50,166.50 616.50,169.50" fill="none" stroke="#b0b0b0" stroke-width="1.4"/>
<line x1="460.40" y1="176.50" x2="528.00" y2="176.50" stroke="#b0b0b0" stroke-width="1.4"/>
<polygon points="460.40,176.50 464.90,175.00 464.90,178.00" fill="#f4f4f4"/>
<polygon points="528.00,176.50 523.50,175.00 523.50,178.00" fill="#f4f4f4"/>
<text transform="translate(494.60,171.90)" x="0" y="0.5" font-family="Liberation Sans" font-size="8.9" fill="#d2d2d2" stroke="#d2d2d2" stroke-width="0.15" text-anchor="middle" dominant-baseline="central" textLength="12.60" lengthAdjust="spacingAndGlyphs">920</text>
<line x1="460.40" y1="186.50" x2="491.90" y2="186.50" stroke="#b0b0b0" stroke-width="1.4"/>
<polygon points="460.40,186.00 464.90,184.50 464.90,187.50" fill="#f4f4f4"/>
<polygon points="491.90,186.00 487.40,184.50 487.40,187.50" fill="#f4f4f4"/>
<line x1="491.50" y1="182.00" x2="491.50" y2="190.00" stroke="#b0b0b0" stroke-width="1.4"/>
<text transform="translate(475.70,180.70)" x="0" y="0.5" font-family="Liberation Sans" font-size="8.9" fill="#d2d2d2" stroke="#d2d2d2" stroke-width="0.15" text-anchor="middle" dominant-baseline="central" textLength="12.60" lengthAdjust="spacingAndGlyphs">420</text>
<line x1="488.00" y1="210.50" x2="635.60" y2="210.50" stroke="#b0b0b0" stroke-width="1.4"/>
<polygon points="488.00,210.70 492.50,209.20 492.50,212.20" fill="#f4f4f4"/>
<polygon points="635.60,210.70 631.10,209.20 631.10,212.20" fill="#f4f4f4"/>
<line x1="635.50" y1="207.00" x2="635.50" y2="214.60" stroke="#b0b0b0" stroke-width="1.4"/>
<text transform="translate(561.00,205.40)" x="0" y="0.5" font-family="Liberation Sans" font-size="8.9" fill="#d2d2d2" stroke="#d2d2d2" stroke-width="0.15" text-anchor="middle" dominant-baseline="central" textLength="16.80" lengthAdjust="spacingAndGlyphs">2040</text>
<line x1="460.40" y1="235.50" x2="635.60" y2="235.50" stroke="#b0b0b0" stroke-width="1.4"/>
<polygon points="460.40,235.00 464.90,233.50 464.90,236.50" fill="#f4f4f4"/>
<polygon points="635.60,235.00 631.10,233.50 631.10,236.50" fill="#f4f4f4"/>
<line x1="635.50" y1="231.40" x2="635.50" y2="239.40" stroke="#b0b0b0" stroke-width="1.4"/>
<text transform="translate(548.40,230.40)" x="0" y="0.5" font-family="Liberation Sans" font-size="8.9" fill="#d2d2d2" stroke="#d2d2d2" stroke-width="0.15" text-anchor="middle" dominant-baseline="central" textLength="16.80" lengthAdjust="spacingAndGlyphs">2390</text>
<line x1="501.50" y1="194.20" x2="501.50" y2="290.50" stroke="#b0b0b0" stroke-width="1.4"/>
<polygon points="501.20,194.20 499.70,198.70 502.70,198.70" fill="#f4f4f4"/>
<polygon points="501.20,290.50 499.70,286.00 502.70,286.00" fill="#f4f4f4"/>
<line x1="497.20" y1="290.50" x2="505.80" y2="290.50" stroke="#b0b0b0" stroke-width="1.4"/>
<text transform="translate(496.10,241.50) rotate(-90)" x="0" y="0.5" font-family="Liberation Sans" font-size="8.9" fill="#d2d2d2" stroke="#d2d2d2" stroke-width="0.15" text-anchor="middle" dominant-baseline="central" textLength="15.50" lengthAdjust="spacingAndGlyphs">1320</text>
<line x1="424.50" y1="166.60" x2="424.50" y2="290.10" stroke="#b0b0b0" stroke-width="1.4"/>
<line x1="419.60" y1="166.50" x2="429.00" y2="166.50" stroke="#b0b0b0" stroke-width="1.4"/>
<line x1="419.60" y1="193.50" x2="429.00" y2="193.50" stroke="#b0b0b0" stroke-width="1.4"/>
<line x1="419.60" y1="198.50" x2="429.00" y2="198.50" stroke="#b0b0b0" stroke-width="1.4"/>
<line x1="419.60" y1="228.50" x2="429.00" y2="228.50" stroke="#b0b0b0" stroke-width="1.4"/>
<line x1="419.60" y1="290.50" x2="429.00" y2="290.50" stroke="#b0b0b0" stroke-width="1.4"/>
<polygon points="424.30,166.60 422.80,171.10 425.80,171.10" fill="#f4f4f4"/>
<polygon points="424.30,193.40 422.80,188.90 425.80,188.90" fill="#f4f4f4"/>
<polygon points="424.30,198.10 422.80,202.60 425.80,202.60" fill="#f4f4f4"/>
<polygon points="424.30,228.50 422.80,224.00 425.80,224.00" fill="#f4f4f4"/>
<polygon points="424.30,228.50 422.80,233.00 425.80,233.00" fill="#f4f4f4"/>
<polygon points="424.30,290.10 422.80,285.60 425.80,285.60" fill="#f4f4f4"/>
<text transform="translate(419.80,179.80) rotate(-90)" x="0" y="0.5" font-family="Liberation Sans" font-size="8.9" fill="#d2d2d2" stroke="#d2d2d2" stroke-width="0.15" text-anchor="middle" dominant-baseline="central" textLength="12.60" lengthAdjust="spacingAndGlyphs">370</text>
<text transform="translate(408.80,185.70) rotate(-90)" x="0" y="0.5" font-family="Liberation Sans" font-size="8.9" fill="#d2d2d2" stroke="#d2d2d2" stroke-width="0.15" text-anchor="middle" dominant-baseline="central" textLength="8.40" lengthAdjust="spacingAndGlyphs">60</text>
<polyline points="412.50,180.50 412.50,190.50 420.50,194.50" fill="none" stroke="#b0b0b0" stroke-width="1.4"/>
<text transform="translate(419.80,212.80) rotate(-90)" x="0" y="0.5" font-family="Liberation Sans" font-size="8.9" fill="#d2d2d2" stroke="#d2d2d2" stroke-width="0.15" text-anchor="middle" dominant-baseline="central" textLength="12.60" lengthAdjust="spacingAndGlyphs">420</text>
<text transform="translate(419.20,259.20) rotate(-90)" x="0" y="0.5" font-family="Liberation Sans" font-size="8.9" fill="#d2d2d2" stroke="#d2d2d2" stroke-width="0.15" text-anchor="middle" dominant-baseline="central" textLength="12.60" lengthAdjust="spacingAndGlyphs">840</text>
</g>
</svg></body></html>
